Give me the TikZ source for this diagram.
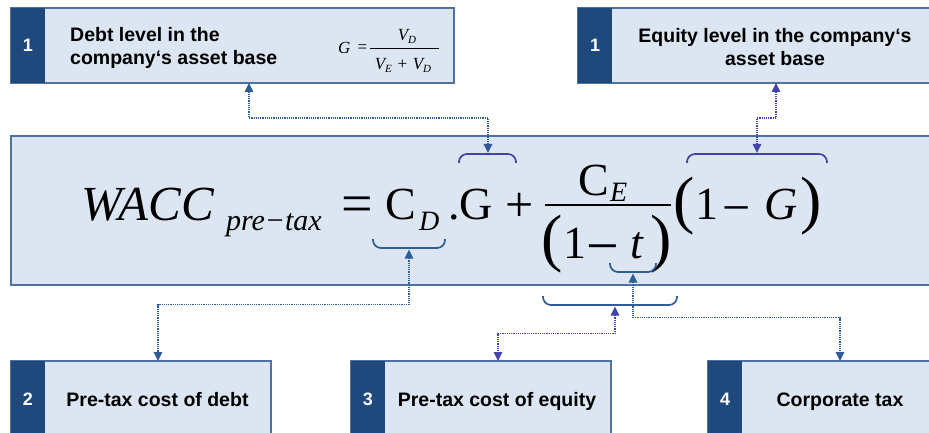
\documentclass[tikz,border=0pt]{standalone}
\usepackage{fontspec}
\setmainfont{Liberation Serif}
\newfontfamily\arialf{Liberation Sans}
\usetikzlibrary{arrows.meta}
\definecolor{lightfill}{HTML}{DCE6F2}
\definecolor{boxline}{HTML}{4F71A6}
\definecolor{darkstrip}{HTML}{1F497D}
\definecolor{steel}{HTML}{2F5C96}
\definecolor{purp}{HTML}{4343AC}
\tikzset{
  box/.style={draw=boxline, fill=lightfill, line width=1.2pt, inner sep=0pt, outer sep=0pt, anchor=north west},
  strip/.style={fill=darkstrip, inner sep=0pt, outer sep=0pt, anchor=north west, text=white,
    font=\arialf\bfseries\fontsize{18}{18}\selectfont},
  lbl/.style={font=\arialf\bfseries\fontsize{19.5}{23}\selectfont, inner sep=0pt, text=black},
  conn/.style={dash pattern=on 1.2pt off 1pt, line width=1.2pt},
  tips/.style={{Triangle[length=9pt,width=8.5pt]}-{Triangle[length=9pt,width=8.5pt]}},
  brace/.style={line width=1.7pt, rounded corners=8pt},
  fm/.style={inner sep=0pt, outer sep=0pt, text=black, font=\fontsize{46}{46}\selectfont},
  fs/.style={inner sep=0pt, outer sep=0pt, text=black, font=\fontsize{17}{17}\selectfont},
}
\begin{document}
\begin{tikzpicture}[x=1pt,y=-1pt]
\useasboundingbox (0,0) rectangle (929,433);
\clip (0,0) rectangle (929,433);

% ---------- boxes ----------
\node[box, minimum width=443pt, minimum height=75pt] (tl) at (11,8) {};
\node[strip, minimum width=34pt, minimum height=75pt] (tls) at (11,8) {1};
\node[box, minimum width=360pt, minimum height=75pt] (tr) at (578,8) {};
\node[strip, minimum width=34pt, minimum height=75pt] (trs) at (578,8) {1};

\node[box, minimum width=930pt, minimum height=149pt] (mb) at (11,136) {};

\node[box, minimum width=260pt, minimum height=80pt] (b2) at (11,361) {};
\node[strip, minimum width=34pt, minimum height=80pt] (b2s) at (11,361) {};
\node[box, minimum width=260pt, minimum height=80pt] (b3) at (351,361) {};
\node[strip, minimum width=34pt, minimum height=80pt] (b3s) at (351,361) {};
\node[box, minimum width=230pt, minimum height=80pt] (b4) at (708,361) {};
\node[strip, minimum width=34pt, minimum height=80pt] (b4s) at (708,361) {};

% numbers in bottom strips
\node[strip, anchor=center] (n2) at (28,399) {2};
\node[strip, anchor=center] (n3) at (368,399) {3};
\node[strip, anchor=center] (n4) at (725,399) {4};

% ---------- box texts ----------
\node[lbl, anchor=west, align=left] (tltext) at (70,47.5) {Debt level in the\\company‘s asset base};
\node[lbl, anchor=center, align=center] (trtext) at (775,47.5) {Equity level in the company‘s\\asset base};
\node[lbl, anchor=base] (b2text) at (157.5,406) {Pre-tax cost of debt};
\node[lbl, anchor=base] (b3text) at (497,406) {Pre-tax cost of equity};
\node[lbl, anchor=base] (b4text) at (840,406) {Corporate tax};

% small formula G = V_D/(V_E+V_D)
\node[fs, anchor=base west] (sg) at (338,54) {\itshape G};
\node[fs, anchor=center] (seq) at (362.5,49) {=};
\draw[line width=0.8pt] (370,48) -- (439,48);
\node[fs, anchor=base] (snum) at (407,41) {\itshape V\raisebox{-2.5pt}{\fontsize{11}{11}\selectfont D}};
\node[fs, anchor=base] (sden) at (403,70) {\itshape V\raisebox{-2.5pt}{\fontsize{11}{11}\selectfont E}\upshape\,\,+\,\,\itshape V\raisebox{-2.5pt}{\fontsize{11}{11}\selectfont D}};

% ---------- main formula ----------
\node[fm, font=\fontsize{49}{49}\selectfont\itshape, anchor=base west] (wacc) at (81,220) {WACC};
\node[fm, font=\fontsize{30}{30}\selectfont\itshape, anchor=base west] (pre) at (226,230) {pre−tax};
\node[fm, font=\fontsize{56}{56}\selectfont, anchor=center] (eq) at (357,210) {=};
\node[fm, anchor=base west] (cd) at (385,219) {C};
\node[fm, font=\fontsize{28}{28}\selectfont\itshape, anchor=base west] (dsub) at (419,230) {D};
\node[fm, anchor=base] (dot) at (454,219) {.};
\node[fm, anchor=base west] (g1) at (459,219) {G};
\node[fm, font=\fontsize{50}{50}\selectfont, anchor=center] (plus) at (519.5,207) {+};
\draw[line width=1.8pt] (545,205) -- (671,205);
\node[fm, anchor=base west] (ce) at (578,195) {C};
\node[fm, font=\fontsize{28}{28}\selectfont\itshape, anchor=base west] (esub) at (610,201) {E};
% denominator (1 - t)
\node[fm, font=\fontsize{64}{64}\selectfont, anchor=east] (lp1) at (563,244) {(};
\node[fm, anchor=base west] (one1) at (563,258) {1};
\node[fm, font=\fontsize{58}{58}\selectfont, anchor=base] (min1) at (602.5,265) {−};
\node[fm, font=\fontsize{46}{46}\selectfont\itshape, anchor=base west] (tt) at (630,258) {t};
\node[fm, font=\fontsize{64}{64}\selectfont, anchor=west] (rp1) at (650,244) {)};
% (1 - G)
\node[fm, font=\fontsize{64}{64}\selectfont, anchor=east] (lp2) at (695,206) {(};
\node[fm, anchor=base west] (one2) at (695,219) {1};
\node[fm, font=\fontsize{50}{50}\selectfont, anchor=base] (min2) at (736.5,224) {−};
\node[fm, font=\fontsize{46}{46}\selectfont\itshape, anchor=base west] (g2) at (764,219) {G};
\node[fm, font=\fontsize{64}{64}\selectfont, anchor=west] (rp2) at (800,206) {)};

% ---------- braces ----------
\draw[brace, purp] (459,163) -- (459,154) -- (516,154) -- (516,163);
\draw[brace, purp] (687,163) -- (687,154) -- (827,154) -- (827,163);
\draw[brace, steel] (373,239) -- (373,248) -- (445,248) -- (445,239);
\draw[brace, steel] (610,263) -- (610,272) -- (656,272) -- (656,263);
\draw[brace, steel] (543,296) -- (543,305) -- (677,305) -- (677,296);

% ---------- connector end points ----------
\coordinate (gB) at (488,153);
\coordinate (omgB) at (757,153);
\coordinate (cdB) at (409,249.5);
\coordinate (tB) at (633,273.5);
\coordinate (frB) at (615,306.5);
\path (tl.south west) ++(238,0) coordinate (tlA);
\path (tr.south west) ++(198,0) coordinate (trA);
\path (b2.north west) ++(147,0) coordinate (b2A);
\path (b3.north west) ++(147,0) coordinate (b3A);
\path (b4.north west) ++(132,0) coordinate (b4A);

% ---------- connectors ----------
\draw[conn, steel, tips] (tlA) -- ++(0,35) -| (gB);
\draw[conn, purp, tips] (trA) -- ++(0,35) -| (omgB);
\draw[conn, steel, tips] (cdB) -- ++(0,55) -| (b2A);
\draw[conn, steel, tips] (tB) -- ++(0,44) -| (b4A);
\draw[conn, purp, tips] (frB) -- ++(0,27) -| (b3A);
\end{tikzpicture}
\end{document}
